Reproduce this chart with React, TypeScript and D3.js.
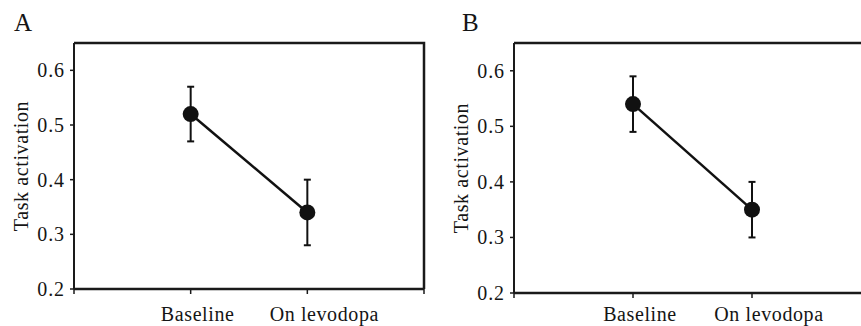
import React from 'react'
import * as d3 from 'd3'

// 数据
const conditions = ['Baseline', 'On levodopa']
const panelLetters = ['A', 'B']
const meansA = [0.52, 0.34]
const lowerA = [0.47, 0.28]
const upperA = [0.57, 0.40]
const meansB = [0.54, 0.35]
const lowerB = [0.49, 0.30]
const upperB = [0.59, 0.40]
const yTicks = [0.2, 0.3, 0.4, 0.5, 0.6]
const yDomain: [number, number] = [0.2, 0.65]

const FONT = '"Liberation Serif", "Times New Roman", serif'
const TEXT_COLOR = '#151515'

interface PanelProps {
  letter: string
  means: number[]
  lower: number[]
  upper: number[]
  left: number
  top: number
  right: number
  bottom: number
  letterX: number
}

function Panel({ letter, means, lower, upper, left, top, right, bottom, letterX }: PanelProps) {
  const x = d3.scaleLinear().domain([0, conditions.length + 1]).range([left, right])
  const y = d3.scaleLinear().domain(yDomain).range([bottom, top])
  const xTicks = d3.range(0, conditions.length + 2)

  const pts = means.map((m, i) => [x(i + 1), y(m)] as [number, number])
  const line = d3.line<[number, number]>()
  const labelShift = [7, 17]

  return (
    <g>
      <text x={letterX} y={31} fontFamily={FONT} fontSize={25} fill={TEXT_COLOR}>{letter}</text>

      {/* 边框 */}
      <path
        d={`M${left},${top}H${right}V${bottom}`}
        fill="none" stroke="#1a1a1a" strokeWidth={2.5}
      />
      {/* Y 轴 */}
      <line x1={left} x2={left} y1={top} y2={bottom} stroke="#1a1a1a" strokeWidth={2} />
      {yTicks.map(t => (
        <g key={t}>
          <line x1={left - 4} x2={left} y1={y(t)} y2={y(t)} stroke="#1a1a1a" strokeWidth={1.5} />
          <text
            x={left - 9} y={y(t)} dy="0.35em" textAnchor="end" letterSpacing={0.9}
            fontFamily={FONT} fontSize={20} fill={TEXT_COLOR}
          >{t.toFixed(1)}</text>
        </g>
      ))}
      <text
        transform={`translate(${left - 53},${(top + bottom) / 2}) rotate(-90)`}
        textAnchor="middle" dy="0.35em" letterSpacing={0.6}
        fontFamily={FONT} fontSize={20} fill={TEXT_COLOR}
      >Task activation</text>

      {/* X 轴 */}
      <line x1={left} x2={right} y1={bottom} y2={bottom} stroke="#1a1a1a" strokeWidth={2.5} />
      {xTicks.map(t => (
        <line key={t} x1={x(t)} x2={x(t)} y1={bottom} y2={bottom + 5} stroke="#1a1a1a" strokeWidth={1.5} />
      ))}
      {conditions.map((c, i) => (
        <text
          key={c} x={x(i + 1) + labelShift[i]} y={321} textAnchor="middle" letterSpacing={0.6}
          fontFamily={FONT} fontSize={20} fill={TEXT_COLOR}
        >{c}</text>
      ))}

      {/* 连线 */}
      <path d={line(pts) || ''} fill="none" stroke="#111" strokeWidth={2.5} />

      {/* 误差线 */}
      {means.map((_, i) => (
        <g key={i} stroke="#111" strokeWidth={2}>
          <line x1={x(i + 1)} x2={x(i + 1)} y1={y(lower[i])} y2={y(upper[i])} />
          <line x1={x(i + 1) - 3.5} x2={x(i + 1) + 3.5} y1={y(lower[i])} y2={y(lower[i])} />
          <line x1={x(i + 1) - 3.5} x2={x(i + 1) + 3.5} y1={y(upper[i])} y2={y(upper[i])} />
        </g>
      ))}

      {/* 数据点 */}
      {pts.map((p, i) => (
        <circle key={i} cx={p[0]} cy={p[1]} r={8} fill="#111" />
      ))}
    </g>
  )
}

export default function App() {
  return (
    <svg
      width={861} height={326}
      style={{ position: 'absolute', left: 0, top: 0, background: '#fff' }}
    >
      <Panel
        letter={panelLetters[0]} means={meansA} lower={lowerA} upper={upperA}
        left={74} top={43} right={424} bottom={289} letterX={14}
      />
      <Panel
        letter={panelLetters[1]} means={meansB} lower={lowerB} upper={upperB}
        left={514} top={43} right={871} bottom={293} letterX={462}
      />
    </svg>
  )
}
